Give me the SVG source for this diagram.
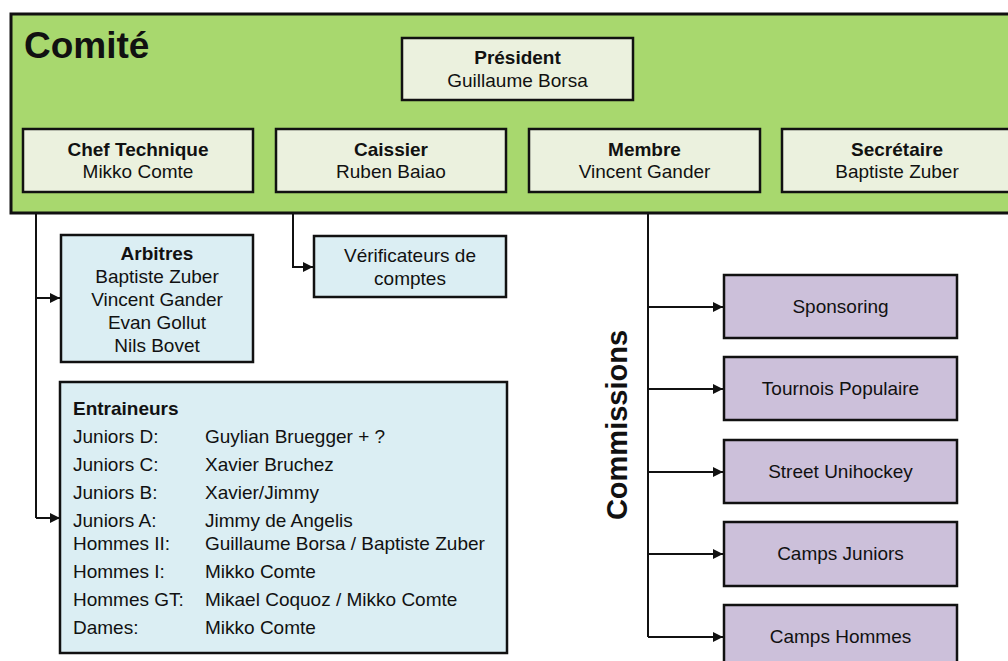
<svg xmlns="http://www.w3.org/2000/svg" width="1008" height="661" viewBox="0 0 1008 661">
<style>
text{font-family:"Liberation Sans",Arial,sans-serif;fill:#111;font-size:19px}
.b{font-weight:bold}
.c{text-anchor:middle}
.box{stroke:#111;stroke-width:2.5}
.top{fill:#EBF1DE}
.blue{fill:#DBEEF3}
.pur{fill:#CCC0DA}
.ln{fill:none;stroke:#111;stroke-width:2}
</style>
<defs>
<marker id="ar" viewBox="0 0 10 10" refX="10" refY="5" markerWidth="5" markerHeight="5" orient="auto" markerUnits="strokeWidth">
<path d="M0,0 L10,5 L0,10 z" fill="#111"/>
</marker>
</defs>
<rect width="1008" height="661" fill="#fff"/>
<g id="connectors">
<path class="ln" d="M36,192 V518"/>
<path class="ln" d="M36,298 H60" marker-end="url(#ar)"/>
<path class="ln" d="M36,518 H60" marker-end="url(#ar)"/>
<path class="ln" d="M293,192 V267 H313" marker-end="url(#ar)"/>
<path class="ln" d="M648,192 V637"/>
<path class="ln" d="M648,307 H723" marker-end="url(#ar)"/>
<path class="ln" d="M648,389 H723" marker-end="url(#ar)"/>
<path class="ln" d="M648,472 H723" marker-end="url(#ar)"/>
<path class="ln" d="M648,554 H723" marker-end="url(#ar)"/>
<path class="ln" d="M648,637 H723" marker-end="url(#ar)"/>
</g>
<g id="comite">
<rect x="11" y="14" width="1010" height="199" fill="#A8D86E" stroke="#111" stroke-width="3"/>
<text x="24" y="58" class="b" style="font-size:37px">Comité</text>
</g>
<g id="president">
<rect class="box top" x="402" y="38" width="231" height="62"/>
<text x="517.5" y="64" class="b c">Président</text>
<text x="517.5" y="87" class="c">Guillaume Borsa</text>
</g>
<g id="chef">
<rect class="box top" x="23" y="129" width="230" height="63"/>
<text x="138" y="156" class="b c">Chef Technique</text>
<text x="138" y="178" class="c">Mikko Comte</text>
</g>
<g id="caissier">
<rect class="box top" x="276" y="129" width="230" height="63"/>
<text x="391" y="156" class="b c">Caissier</text>
<text x="391" y="178" class="c">Ruben Baiao</text>
</g>
<g id="membre">
<rect class="box top" x="529" y="129" width="231" height="63"/>
<text x="644.5" y="156" class="b c">Membre</text>
<text x="644.5" y="178" class="c">Vincent Gander</text>
</g>
<g id="secretaire">
<rect class="box top" x="782" y="129" width="240" height="63"/>
<text x="897" y="156" class="b c">Secrétaire</text>
<text x="897" y="178" class="c">Baptiste Zuber</text>
</g>
<g id="arbitres">
<rect class="box blue" x="61" y="235" width="192" height="127"/>
<text x="157" y="260" class="b c">Arbitres</text>
<text x="157" y="283" class="c">Baptiste Zuber</text>
<text x="157" y="306" class="c">Vincent Gander</text>
<text x="157" y="329" class="c">Evan Gollut</text>
<text x="157" y="352" class="c">Nils Bovet</text>
</g>
<g id="verificateurs">
<rect class="box blue" x="314" y="236" width="192" height="61"/>
<text x="410" y="262" class="c">Vérificateurs de</text>
<text x="410" y="285" class="c">comptes</text>
</g>
<g id="entraineurs">
<rect class="box blue" x="60" y="382" width="447" height="271"/>
<text x="73" y="415" class="b">Entraineurs</text>
<text x="73" y="443">Juniors D:</text><text x="205" y="443">Guylian Bruegger + ?</text>
<text x="73" y="471">Juniors C:</text><text x="205" y="471">Xavier Bruchez</text>
<text x="73" y="499">Juniors B:</text><text x="205" y="499">Xavier/Jimmy</text>
<text x="73" y="527">Juniors A:</text><text x="205" y="527">Jimmy de Angelis</text>
<text x="73" y="550">Hommes II:</text><text x="205" y="550">Guillaume Borsa / Baptiste Zuber</text>
<text x="73" y="578">Hommes I:</text><text x="205" y="578">Mikko Comte</text>
<text x="73" y="606">Hommes GT:</text><text x="205" y="606">Mikael Coquoz / Mikko Comte</text>
<text x="73" y="634">Dames:</text><text x="205" y="634">Mikko Comte</text>
</g>
<g id="commissions-label">
<text transform="translate(627,425) rotate(-90)" class="b c" style="font-size:29px">Commissions</text>
</g>
<g id="sponsoring">
<rect class="box pur" x="724" y="275" width="233" height="63"/>
<text x="840.5" y="313" class="c">Sponsoring</text>
</g>
<g id="tournois">
<rect class="box pur" x="724" y="357" width="233" height="63"/>
<text x="840.5" y="395" class="c">Tournois Populaire</text>
</g>
<g id="street">
<rect class="box pur" x="724" y="440" width="233" height="63"/>
<text x="840.5" y="478" class="c">Street Unihockey</text>
</g>
<g id="campsjuniors">
<rect class="box pur" x="724" y="522" width="233" height="64"/>
<text x="840.5" y="560" class="c">Camps Juniors</text>
</g>
<g id="campshommes">
<rect class="box pur" x="724" y="605" width="233" height="70"/>
<text x="840.5" y="643" class="c">Camps Hommes</text>
</g>
</svg>
